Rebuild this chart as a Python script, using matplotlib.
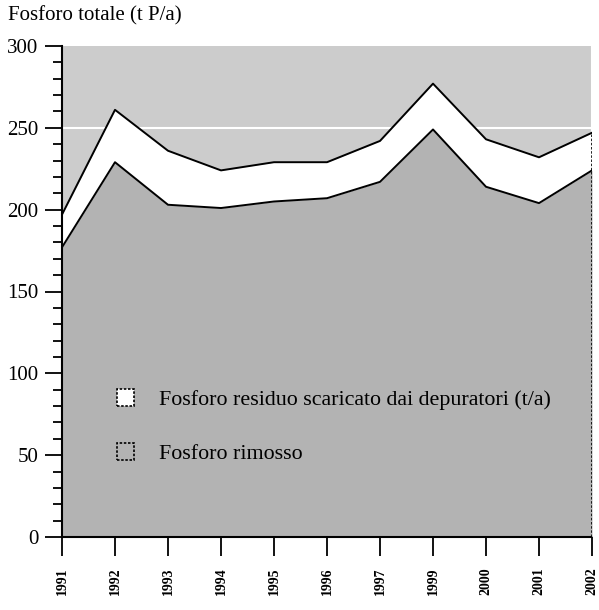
import matplotlib.pyplot as plt
import numpy as np
from matplotlib.patches import Patch
from matplotlib.ticker import MultipleLocator

# dati
anni = ["1991", "1992", "1993", "1994", "1995", "1996", "1997", "1999", "2000", "2001", "2002"]
fosforo_totale = [197, 261, 236, 224, 229, 229, 242, 277, 243, 232, 247]
fosforo_rimosso = [177, 229, 203, 201, 205, 207, 217, 249, 214, 204, 224]

serif = "Liberation Serif"
grigio_chiaro = "#cccccc"
grigio_scuro = "#b3b3b3"

fig = plt.figure(figsize=(5.99, 6.10), dpi=100)
ax = fig.add_axes([62 / 599, 73 / 610, 530 / 599, 491 / 610])
ax.set_facecolor(grigio_chiaro)

x = np.arange(len(anni))

# griglia bianca a 250 (sotto le aree)
ax.axhline(250, color="white", lw=1.5, zorder=0.5)
ax.axvline(x[-1], color="white", lw=1.5, zorder=0.5)

ax.fill_between(x, 0, fosforo_rimosso, color=grigio_scuro, lw=0, zorder=1)
ax.fill_between(x, fosforo_rimosso, fosforo_totale, color="white", lw=0, zorder=1)
ax.plot(x, fosforo_totale, color="black", lw=1.4, zorder=3)
ax.plot(x, fosforo_rimosso, color="black", lw=1.4, zorder=3)
ax.plot([x[-1], x[-1]], [0, fosforo_totale[-1]], color="black", lw=1.2,
        linestyle=(0, (1.5, 1)), zorder=3)

ax.set_xlim(x[0], x[-1])
ax.set_ylim(0, 300)

for lato in ["top", "right"]:
    ax.spines[lato].set_visible(False)
for lato in ["left", "bottom"]:
    ax.spines[lato].set_linestyle((0, (1.5, 1)))
    ax.spines[lato].set_linewidth(1.5)
    ax.spines[lato].set_zorder(4)

ax.yaxis.set_major_locator(MultipleLocator(50))
ax.yaxis.set_minor_locator(MultipleLocator(10))
ax.tick_params(axis="y", which="major", length=12, width=1.3, pad=5,
               labelsize=15, direction="out")
ax.tick_params(axis="y", which="minor", length=6.5, width=1.3, direction="out")
for t in ax.get_yticklabels():
    t.set_fontfamily(serif)

ax.set_xticks(x)
ax.set_xticklabels(anni, rotation=90, fontsize=10, fontfamily=serif,
                   fontweight="bold")
ax.tick_params(axis="x", length=14, width=1.3, pad=8, direction="out")

fig.text(8 / 599, 1 - 16 / 610, "Fosforo totale (t P/a)", fontsize=15,
         fontfamily=serif, va="center", ha="left")

maniglie = [
    Patch(facecolor="white", edgecolor="black", linestyle=(0, (1.5, 1)), lw=1.2),
    Patch(facecolor=grigio_scuro, edgecolor="black", linestyle=(0, (1.5, 1)), lw=1.2),
]
etichette = ["Fosforo residuo scaricato dai depuratori (t/a)", "Fosforo rimosso"]
leg = ax.legend(maniglie, etichette, loc="upper left",
                bbox_to_anchor=(55 / 530, 1 - (389 - 46) / 491),
                frameon=False, prop={"family": serif, "size": 15.8},
                handlelength=0.78, handleheight=0.78, handletextpad=1.15,
                labelspacing=1.52, borderaxespad=0, borderpad=0)
leg.set_zorder(5)

fig.savefig("out.png", dpi=100)
